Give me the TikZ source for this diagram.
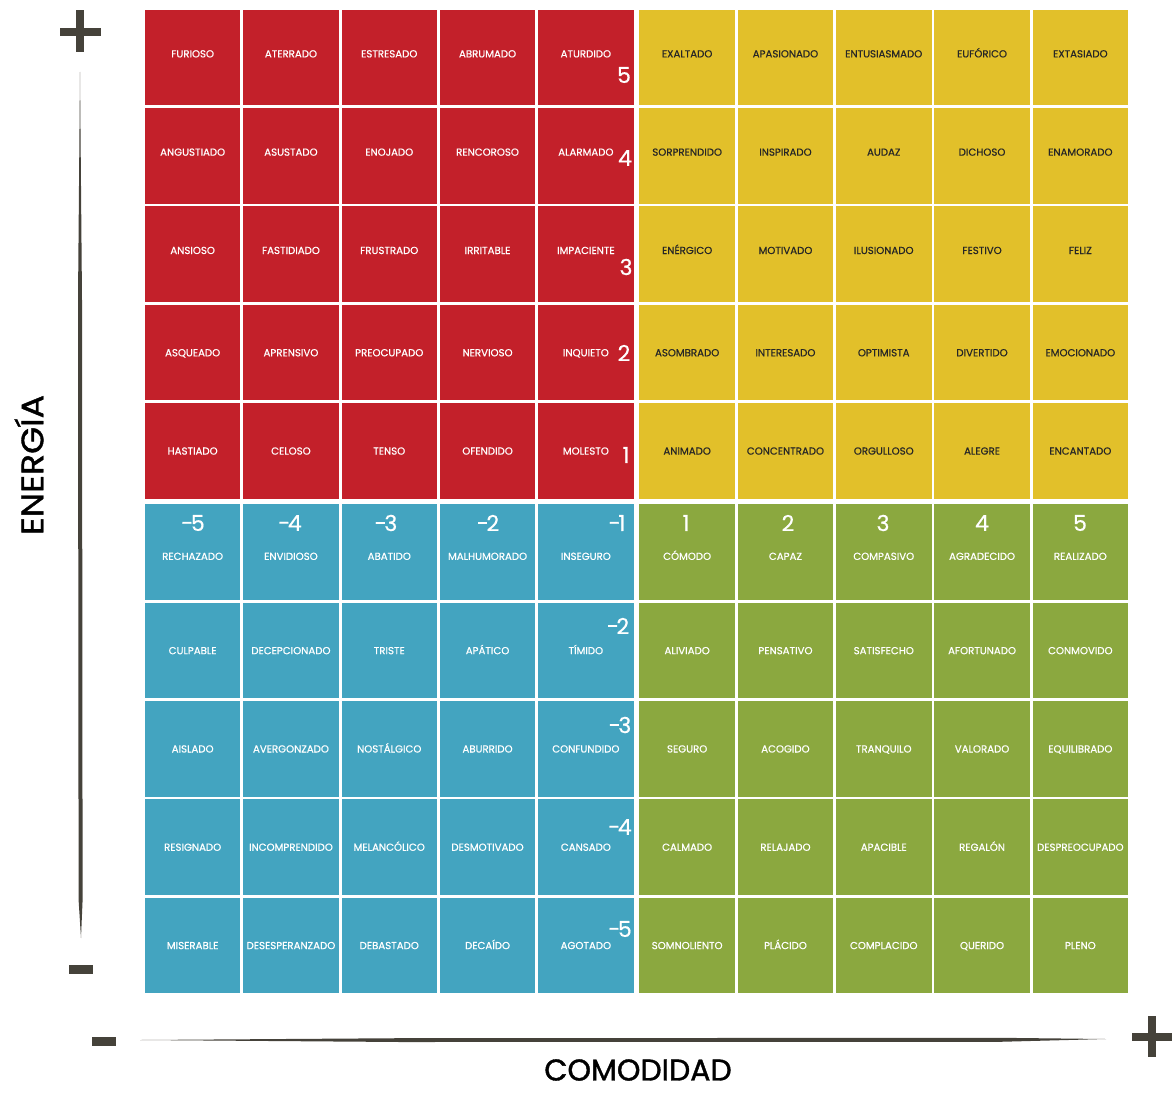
\documentclass[tikz,border=0pt]{standalone}
\usepackage{fontspec}
\setmainfont{Poppins}
\newfontfamily\medio{Poppins}[FakeBold=0.6]
\newfontfamily\grueso{Poppins}[FakeBold=1.2]
\usetikzlibrary{positioning}

\definecolor{rojo}{RGB}{195,32,42}
\definecolor{amarillo}{RGB}{226,192,42}
\definecolor{azul}{RGB}{67,164,192}
\definecolor{verde}{RGB}{139,168,63}
\definecolor{eje}{RGB}{69,66,58}

\newcommand{\menos}{-\kern-2.5pt}

\tikzset{
  celda/.style={rectangle, minimum width=95.5pt, minimum height=95.5pt, inner sep=0pt,
    text height=7.5pt, text depth=0pt, font=\medio\fontsize{10.2}{10}\selectfont, text=white},
  celdaroja/.style={celda, fill=rojo},
  celdaamarilla/.style={celda, fill=amarillo, text=black!85},
  celdaazul/.style={celda, fill=azul},
  celdaverde/.style={celda, fill=verde},
  arriba/.style={text depth=8pt},
  centro/.style={},
  abajo/.style={text height=15.5pt},
  numero/.style={font=\medio\fontsize{22}{22}\selectfont, text=white, inner sep=0pt},
  titulo/.style={font=\grueso\fontsize{31}{31}\selectfont, inner sep=2pt},
  marca/.style={fill=eje}
}

\begin{document}
\begin{tikzpicture}[x=1pt, y=-1pt]
  \useasboundingbox (0,0) rectangle (1172,1094);

  % cuadrante rojo
  \foreach \fila/\ajuste/\lista in {0/arriba/{FURIOSO,ATERRADO,ESTRESADO,ABRUMADO,ATURDIDO},
      1/arriba/{ANGUSTIADO,ASUSTADO,ENOJADO,RENCOROSO,ALARMADO},
      2/arriba/{ANSIOSO,FASTIDIADO,FRUSTRADO,IRRITABLE,IMPACIENTE},
      3/centro/{ASQUEADO,APRENSIVO,PREOCUPADO,NERVIOSO,INQUIETO},
      4/centro/{HASTIADO,CELOSO,TENSO,OFENDIDO,MOLESTO}}
    \foreach \emo [count=\col from 0] in \lista
      \node[celdaroja, \ajuste] (c-\fila-\col) at (192.65+98.3*\col, 57.65+98.3*\fila) {\emo};

  % cuadrante amarillo
  \foreach \fila/\ajuste/\lista in {0/arriba/{EXALTADO,APASIONADO,ENTUSIASMADO,EUFÓRICO,EXTASIADO},
      1/arriba/{SORPRENDIDO,INSPIRADO,AUDAZ,DICHOSO,ENAMORADO},
      2/arriba/{ENÉRGICO,MOTIVADO,ILUSIONADO,FESTIVO,FELIZ},
      3/centro/{ASOMBRADO,INTERESADO,OPTIMISTA,DIVERTIDO,EMOCIONADO},
      4/centro/{ANIMADO,CONCENTRADO,ORGULLOSO,ALEGRE,ENCANTADO}}
    \foreach \emo [count=\col from 5] in \lista
      \node[celdaamarilla, \ajuste] (c-\fila-\col) at (195.65+98.3*\col, 57.65+98.3*\fila) {\emo};

  % cuadrante azul
  \foreach \fila/\ajuste/\lista in {5/abajo/{RECHAZADO,ENVIDIOSO,ABATIDO,MALHUMORADO,INSEGURO},
      6/centro/{CULPABLE,DECEPCIONADO,TRISTE,APÁTICO,TÍMIDO},
      7/centro/{AISLADO,AVERGONZADO,NOSTÁLGICO,ABURRIDO,CONFUNDIDO},
      8/centro/{RESIGNADO,INCOMPRENDIDO,MELANCÓLICO,DESMOTIVADO,CANSADO},
      9/centro/{MISERABLE,DESESPERANZADO,DEBASTADO,DECAÍDO,AGOTADO}}
    \foreach \emo [count=\col from 0] in \lista
      \node[celdaazul, \ajuste] (c-\fila-\col) at (192.65+98.3*\col, 60.65+98.3*\fila) {\emo};

  % cuadrante verde
  \foreach \fila/\ajuste/\lista in {5/abajo/{CÓMODO,CAPAZ,COMPASIVO,AGRADECIDO,REALIZADO},
      6/centro/{ALIVIADO,PENSATIVO,SATISFECHO,AFORTUNADO,CONMOVIDO},
      7/centro/{SEGURO,ACOGIDO,TRANQUILO,VALORADO,EQUILIBRADO},
      8/centro/{CALMADO,RELAJADO,APACIBLE,REGALÓN,DESPREOCUPADO},
      9/centro/{SOMNOLIENTO,PLÁCIDO,COMPLACIDO,QUERIDO,PLENO}}
    \foreach \emo [count=\col from 5] in \lista
      \node[celdaverde, \ajuste] (c-\fila-\col) at (195.65+98.3*\col, 60.65+98.3*\fila) {\emo};

  % numeros de energia
  \node[numero] (e5) at (624,75) {5};
  \node[numero] (e4) at (625,158) {4};
  \node[numero] (e3) at (626,267) {3};
  \node[numero] (e2) at (624,353) {2};
  \node[numero] (e1) at (626,455) {1};
  \node[numero] (em2) at (618,626) {\menos2};
  \node[numero] (em3) at (620,725) {\menos3};
  \node[numero] (em4) at (620,827) {\menos4};
  \node[numero] (em5) at (620,929) {\menos5};

  % numeros de comodidad
  \foreach \x/\n [count=\i] in {193/\menos5,290/\menos4,386/\menos3,488/\menos2,617/\menos1,686/1,788/2,883/3,982/4,1080/5}
    \node[numero] (k-\i) at (\x,523) {\n};

  % ejes
  \fill[eje] (80,72) -- (82,300) -- (82.6,900) -- (81,938) -- (78.6,900) -- (78,300) -- cycle;
  \fill[eje] (140,1040) -- (400,1038.2) -- (1000,1037.8) -- (1106,1039) -- (1000,1041.8) -- (400,1042) -- cycle;
  \fill[marca] (60,28) rectangle (101,36);
  \fill[marca] (76,10) rectangle (84,52);
  \fill[marca] (69,965) rectangle (93,974);
  \fill[marca] (92,1037) rectangle (116,1046);
  \fill[marca] (1132,1033) rectangle (1172,1041);
  \fill[marca] (1148,1016) rectangle (1156,1057);

  \node[titulo, rotate=90, xscale=1.12] (energia) at (29,465) {ENERGÍA};
  \node[titulo, font=\grueso\fontsize{30}{30}\selectfont] (comodidad) at (638,1070) {COMODIDAD};
\end{tikzpicture}
\end{document}
